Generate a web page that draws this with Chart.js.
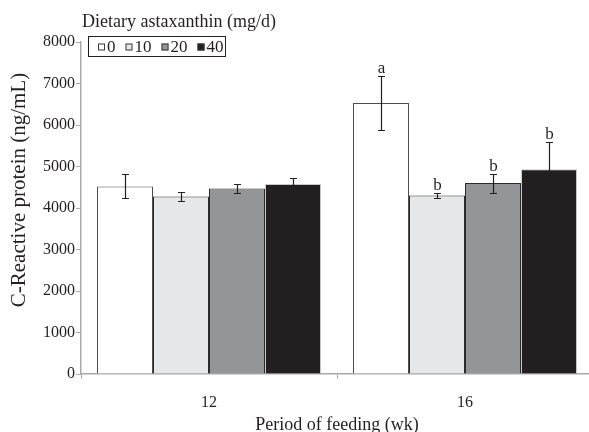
<!DOCTYPE html>
<html><head><meta charset="utf-8">
<script src="https://cdn.jsdelivr.net/npm/chart.js@4.4.1/dist/chart.umd.min.js"></script>
<style>
html,body{margin:0;padding:0;background:#fff;overflow:hidden;}
#wrap{position:relative;width:593px;height:432px;}
</style></head><body>
<div id="wrap"><canvas id="c"></canvas></div>
<script>
// Serum C-reactive protein by feeding period and astaxanthin dose
const weeks = ['12', '16'];
const doses = ['0', '10', '20', '40'];

// Means (ng/mL) per week
const crp0  = [4520, 6530];
const crp10 = [4280, 4300];
const crp20 = [4470, 4600];
const crp40 = [4580, 4935];

// Error bar half-lengths (ng/mL)
const err0  = [290, 640];
const err10 = [100, 65];
const err20 = [115, 230];
const err40 = [150, 655];

// Significance letters
const sig0  = ['', 'a'];
const sig10 = ['', 'b'];
const sig20 = ['', 'b'];
const sig40 = ['', 'b'];

const yTicksMax = 8000;
const yTickStep = 1000;

const FONT = "'Liberation Serif', 'Times New Roman', serif";
const INK = '#231f20';
const AXIS = '#a7a9ac';

const fills = ['#ffffff', '#e6e7e8', '#939598', '#231f20'];
const edges = ['#4d4d4f', '#2b2b2b', '#2b2b2b', '#c8c8c8'];
const values = [crp0, crp10, crp20, crp40];
const errs = [err0, err10, err20, err40];
const sigs = [sig0, sig10, sig20, sig40];

const datasets = doses.map((d, i) => ({
  label: d,
  data: values[i],
  errors: errs[i],
  letters: sigs[i],
  backgroundColor: fills[i],
  borderColor: edges[i],
  borderWidth: 1,
  categoryPercentage: 0.875,
  barPercentage: 1
}));

const errorBars = {
  id: 'errorBars',
  afterDatasetsDraw(chart) {
    const ctx = chart.ctx;
    const y = chart.scales.y;
    ctx.save();
    chart.data.datasets.forEach((ds, i) => {
      const meta = chart.getDatasetMeta(i);
      meta.data.forEach((bar, j) => {
        const v = ds.data[j], e = ds.errors[j];
        const top = Math.round(y.getPixelForValue(v + e)) + 0.5;
        const bot = Math.round(y.getPixelForValue(v - e)) + 0.5;
        const x = Math.round(bar.x) + 0.5;
        ctx.strokeStyle = INK;
        ctx.lineWidth = 1.2;
        ctx.beginPath();
        ctx.moveTo(x, top); ctx.lineTo(x, bot);
        ctx.moveTo(x - 3.5, top); ctx.lineTo(x + 3.5, top);
        ctx.moveTo(x - 3.5, bot); ctx.lineTo(x + 3.5, bot);
        ctx.stroke();
        const t = ds.letters[j];
        if (t) {
          ctx.fillStyle = INK;
          ctx.font = '17px ' + FONT;
          ctx.textAlign = 'center';
          ctx.textBaseline = 'alphabetic';
          ctx.fillText(t, x, top - 4);
        }
      });
    });
    ctx.restore();
  }
};

const decorations = {
  id: 'decorations',
  afterDraw(chart) {
    const ctx = chart.ctx;
    ctx.save();
    // y-axis title
    ctx.fillStyle = INK;
    ctx.font = '21px ' + FONT;
    ctx.textAlign = 'center';
    ctx.textBaseline = 'middle';
    ctx.translate(19, 190);
    ctx.rotate(-Math.PI / 2);
    ctx.fillText('C-Reactive protein (ng/mL)', 0, 0);
    ctx.restore();

    // legend: title and boxed entries
    ctx.save();
    ctx.fillStyle = INK;
    ctx.font = '18px ' + FONT;
    ctx.textAlign = 'left';
    ctx.textBaseline = 'alphabetic';
    ctx.fillText('Dietary astaxanthin (mg/d)', 82, 27);

    ctx.strokeStyle = INK;
    ctx.lineWidth = 1;
    ctx.strokeRect(88.5, 36.5, 137, 20);

    ctx.font = '17px ' + FONT;
    ctx.textBaseline = 'middle';
    let x = 98;
    const cy = 47;
    chart.data.datasets.forEach((ds, i) => {
      ctx.fillStyle = ds.backgroundColor;
      ctx.fillRect(x, cy - 3.5, 7, 7);
      ctx.strokeStyle = '#3a3a3a';
      ctx.strokeRect(x + 0.5, cy - 3, 6, 6);
      ctx.fillStyle = INK;
      ctx.fillText(ds.label, x + 9, cy + 1);
      x += 9 + ctx.measureText(ds.label).width + 10;
    });
    ctx.restore();
  }
};

new Chart(document.getElementById('c'), {
  type: 'bar',
  data: { labels: weeks, datasets },
  options: {
    responsive: true,
    maintainAspectRatio: false,
    animation: false,
    layout: { padding: { top: 42, left: 0, right: 0, bottom: 0 } },
    plugins: { legend: { display: false }, tooltip: { enabled: false } },
    scales: {
      x: {
        grid: { display: true, drawOnChartArea: false, tickLength: 5, color: AXIS, lineWidth: 1 },
        border: { color: AXIS, width: 1.5 },
        ticks: { font: { family: FONT, size: 16 }, color: INK, padding: 14 },
        title: { display: true, text: 'Period of feeding (wk)', color: INK,
                 font: { family: FONT, size: 18, lineHeight: 0.7 }, padding: 0 },
        afterFit(s) { s.height = 58; }
      },
      y: {
        min: 0, max: yTicksMax,
        ticks: { stepSize: yTickStep, font: { family: FONT, size: 16 }, color: INK, padding: 1,
                 callback: v => String(v) },
        grid: { display: true, drawOnChartArea: false, tickLength: 5, color: AXIS, lineWidth: 1 },
        border: { color: AXIS, width: 1.5 },
        afterFit(s) { s.width = 81; }
      }
    }
  },
  plugins: [errorBars, decorations]
});
</script>
</body></html>
